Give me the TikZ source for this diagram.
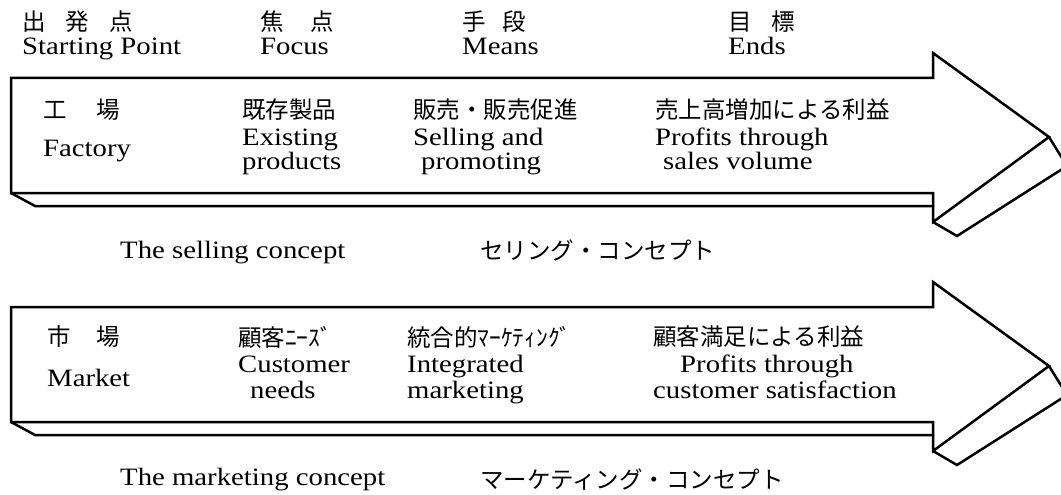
\documentclass[tikz,border=0pt]{standalone}
\usepackage{fontspec}
\setmainfont{Liberation Serif}[FakeStretch=1.15]
\newfontfamily\jpfont{Noto Sans CJK JP}
\tikzset{
  en/.style={anchor=base west, inner sep=0pt, font=\fontsize{25}{28}\selectfont},
  jp/.style={anchor=west, inner sep=0pt, font=\jpfont\fontsize{23.5}{26}\selectfont},
  outline/.style={line width=2.5pt, line join=miter, line cap=round},
}
\newcommand{\bigthreedarrow}{%
  \draw[outline] (11,78) -- (933,78) -- (933,53) -- (1049,137) -- (933,222)
     -- (933,193) -- (11,193) -- cycle;
  \draw[outline] (11,193) -- (35,206) -- (933,206);
  \draw[outline] (933,222) -- (957,236) -- (1067,166) -- (1049,137);
}
\begin{document}
\begin{tikzpicture}[x=1pt,y=-1pt]
\useasboundingbox (0,0) rectangle (1061,495);
\clip (0,0) rectangle (1061,495);
\fill[white] (0,0) rectangle (1061,495);

% arrows
\bigthreedarrow
\begin{scope}[shift={(0,229)}]
\bigthreedarrow
\end{scope}

% header
\node[jp] (hj1) at (22,22) {出\hspace{20pt}発\hspace{20pt}点};
\node[en] (he1) at (22,55) {Starting Point};
\node[jp] (hj2) at (260,22) {焦\hspace{27pt}点};
\node[en] (he2) at (260,55) {Focus};
\node[jp] (hj3) at (462,22) {手\hspace{17pt}段};
\node[en] (he3) at (462,55) {Means};
\node[jp] (hj4) at (728,22) {目\hspace{20pt}標};
\node[en] (he4) at (728,55) {Ends};

% selling concept arrow
\node[jp] (s1j) at (43,110) {工\hspace{30pt}場};
\node[en] (s1e) at (43,157) {Factory};
\node[jp] (s2j) at (242,110) {既存製品};
\node[en] (s2a) at (242,146) {Existing};
\node[en] (s2b) at (242,169) {products};
\node[jp] (s3j) at (413,110) {販売・販売促進};
\node[en] (s3a) at (413,146) {Selling and};
\node[en] (s3b) at (421,169) {promoting};
\node[jp] (s4j) at (655,110) {売上高増加による利益};
\node[en] (s4a) at (655,146) {Profits through};
\node[en] (s4b) at (663,169) {sales volume};

\node[en] (sc) at (120,258) {The selling concept};
\node[jp] (scj) at (480,250) {セリング・コンセプト};

% marketing concept arrow
\node[jp] (m1j) at (47,337) {市\hspace{26pt}場};
\node[en] (m1e) at (47,386) {Market};
\node[jp] (m2j) at (238,337) {顧客ﾆｰｽﾞ};
\node[en] (m2a) at (238,372) {Customer};
\node[en] (m2b) at (250,398) {needs};
\node[jp] (m3j) at (407,337) {統合的ﾏｰｹﾃｨﾝｸﾞ};
\node[en] (m3a) at (407,372) {Integrated};
\node[en] (m3b) at (407,398) {marketing};
\node[jp] (m4j) at (653,337) {顧客満足による利益};
\node[en] (m4a) at (680,372) {Profits through};
\node[en] (m4b) at (653,398) {customer satisfaction};

\node[en] (mc) at (120,485) {The marketing concept};
\node[jp] (mcj) at (480,480) {マーケティング・コンセプト};
\end{tikzpicture}
\end{document}
